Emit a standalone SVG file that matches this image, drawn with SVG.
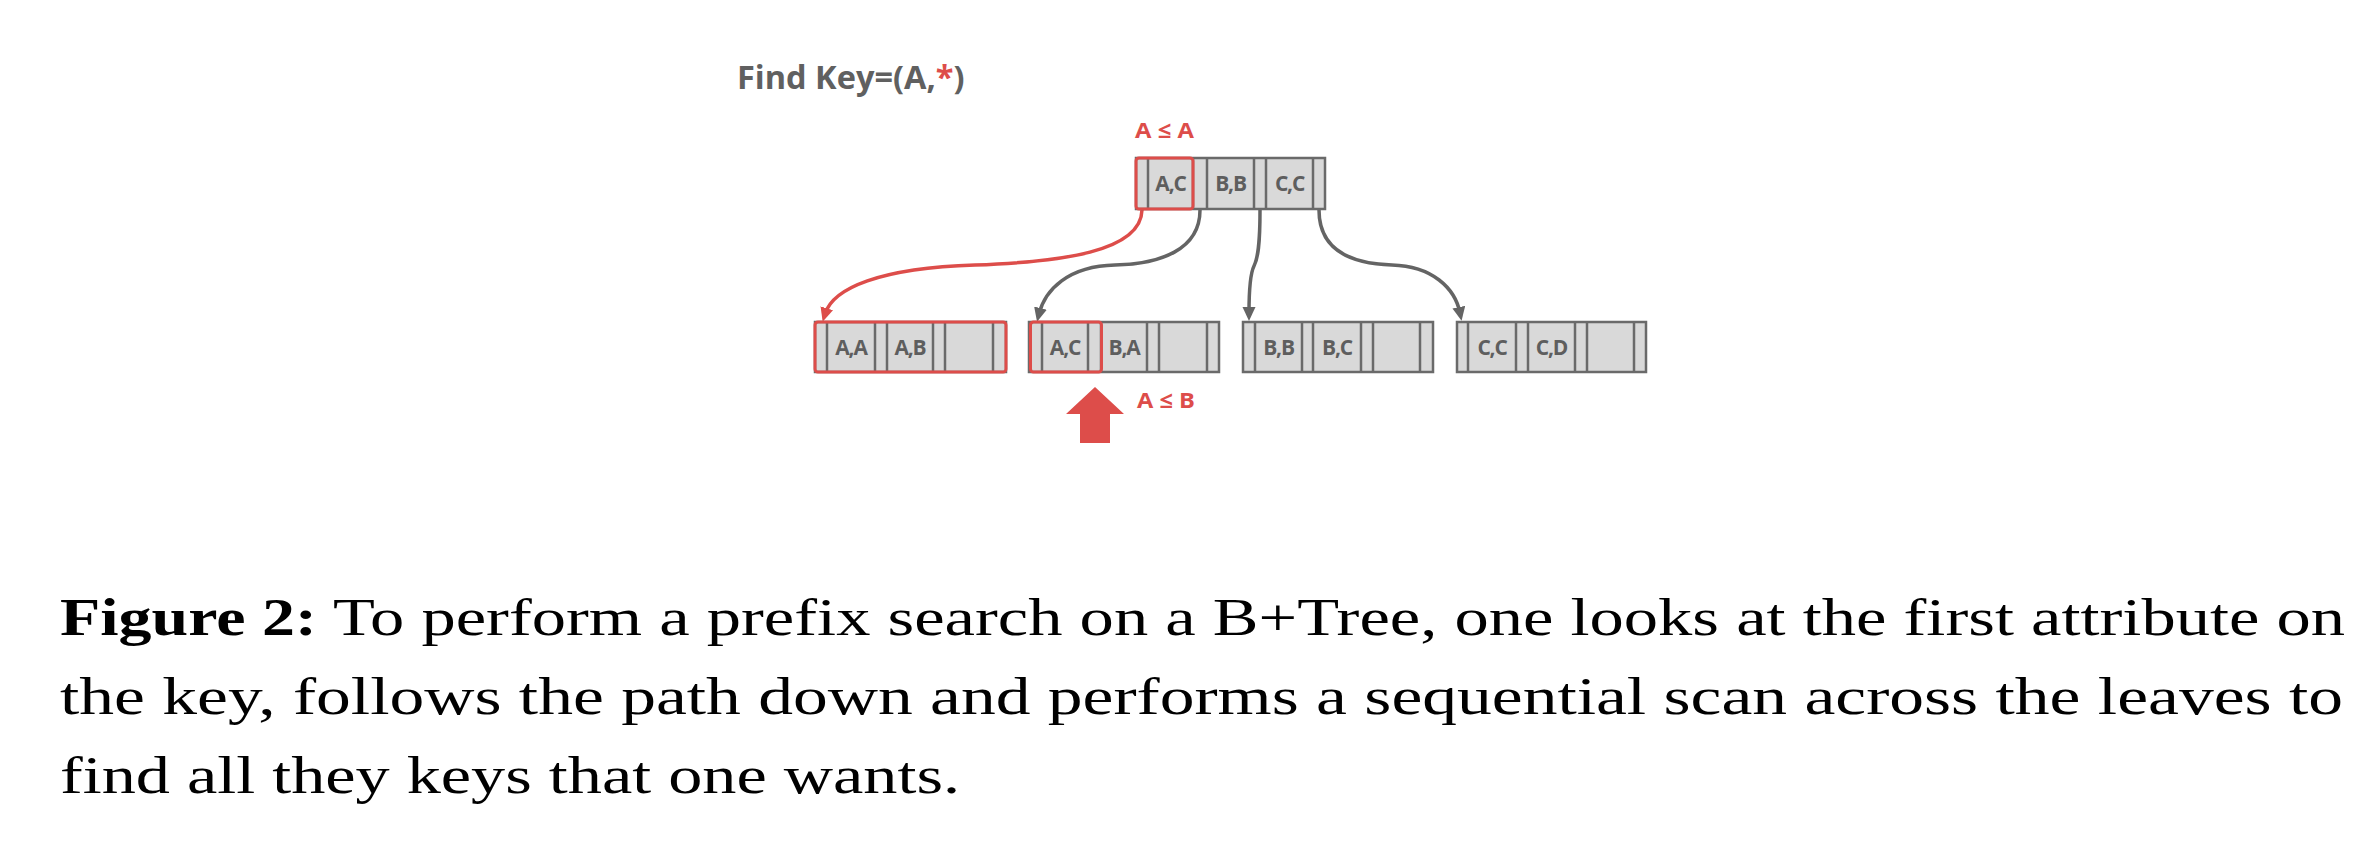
<svg xmlns="http://www.w3.org/2000/svg" width="2370" height="864" viewBox="0 0 2370 864">
<style>
.bg{fill:#ffffff}
.box{fill:#d9d9d9;stroke:#6a6a6a;stroke-width:2.5}
.dv{stroke:#6a6a6a;stroke-width:2.5}
.key{font-family:"Open Sans","Liberation Sans",sans-serif;font-weight:700;font-size:21px;fill:#5e5e5e;text-anchor:middle;letter-spacing:-1.2px}
.hl{fill:none;stroke:#dd4d4a;stroke-width:3}
.edge{fill:none;stroke:#646464;stroke-width:3.5}
.edge.red{stroke:#dd4d4a}
.lbl{font-family:"Open Sans","Liberation Sans",sans-serif;font-weight:700;font-size:22px;fill:#dd4d4a}
.title{font-family:"Open Sans","Liberation Sans",sans-serif;font-weight:700;font-size:32.5px;fill:#606060}
.star{fill:#dd4d4a}
.cap{font-family:"Liberation Serif","DejaVu Serif",serif;font-size:52px;fill:#000}
</style>
<defs>
<marker id="ag" markerUnits="userSpaceOnUse" markerWidth="16" markerHeight="14" refX="6" refY="6.5" orient="auto"><path d="M0,0 L14,6.5 L0,13 z" fill="#646464"/></marker>
<marker id="ar" markerUnits="userSpaceOnUse" markerWidth="16" markerHeight="14" refX="6" refY="6.5" orient="auto"><path d="M0,0 L14,6.5 L0,13 z" fill="#dd4d4a"/></marker>
</defs>
<rect class="bg" x="0" y="0" width="2370" height="864"/>

<g id="title">
<text class="title" x="737" y="89">Find Key=(A,<tspan class="star">*</tspan>)</text>
</g>

<g id="connectors">
<path class="edge red" d="M1142,210 C1141,252 1060,262 975,265 C880,268 833,288 825,314" marker-end="url(#ar)"/>
<path class="edge" d="M1200,210 C1200,250 1160,264 1115,265 C1068,266 1045,290 1039,314" marker-end="url(#ag)"/>
<path class="edge" d="M1260,210 C1260,245 1258,258 1254,266 C1250,274 1249,290 1249,313" marker-end="url(#ag)"/>
<path class="edge" d="M1319,210 C1319,255 1360,264 1392,265 C1432,266 1455,288 1460,313" marker-end="url(#ag)"/>
</g>

<g id="root" transform="translate(1136,158)">
<rect class="box" x="0" y="0" width="189" height="51"/>
<line class="dv" x1="12" y1="0" x2="12" y2="51"/>
<line class="dv" x1="57" y1="0" x2="57" y2="51"/>
<line class="dv" x1="71" y1="0" x2="71" y2="51"/>
<line class="dv" x1="118" y1="0" x2="118" y2="51"/>
<line class="dv" x1="130" y1="0" x2="130" y2="51"/>
<line class="dv" x1="177" y1="0" x2="177" y2="51"/>
<text class="key" x="34.5" y="33">A,C</text>
<text class="key" x="94.5" y="33">B,B</text>
<text class="key" x="153.5" y="33">C,C</text>
<rect class="hl" x="0" y="0" width="57" height="51" rx="3"/>
</g>
<g id="root-label">
<text class="lbl" x="1135" y="138" textLength="59" lengthAdjust="spacingAndGlyphs">A ≤ A</text>
</g>

<g id="leaf1" transform="translate(815,322)">
<rect class="box" x="0" y="0" width="191" height="50"/>
<line class="dv" x1="12" y1="0" x2="12" y2="50"/>
<line class="dv" x1="60" y1="0" x2="60" y2="50"/>
<line class="dv" x1="72" y1="0" x2="72" y2="50"/>
<line class="dv" x1="118" y1="0" x2="118" y2="50"/>
<line class="dv" x1="130" y1="0" x2="130" y2="50"/>
<line class="dv" x1="178" y1="0" x2="178" y2="50"/>
<text class="key" x="36" y="33">A,A</text>
<text class="key" x="95" y="33">A,B</text>
<rect class="hl" x="0" y="0" width="191" height="50" rx="3"/>
</g>

<g id="leaf2" transform="translate(1029,322)">
<rect class="box" x="0" y="0" width="190" height="50"/>
<line class="dv" x1="13" y1="0" x2="13" y2="50"/>
<line class="dv" x1="59" y1="0" x2="59" y2="50"/>
<line class="dv" x1="72" y1="0" x2="72" y2="50"/>
<line class="dv" x1="118" y1="0" x2="118" y2="50"/>
<line class="dv" x1="130" y1="0" x2="130" y2="50"/>
<line class="dv" x1="178" y1="0" x2="178" y2="50"/>
<text class="key" x="36" y="33">A,C</text>
<text class="key" x="95" y="33">B,A</text>
<rect class="hl" x="1.5" y="0" width="71" height="50" rx="3"/>
</g>

<g id="leaf3" transform="translate(1243,322)">
<rect class="box" x="0" y="0" width="190" height="50"/>
<line class="dv" x1="12" y1="0" x2="12" y2="50"/>
<line class="dv" x1="59" y1="0" x2="59" y2="50"/>
<line class="dv" x1="70" y1="0" x2="70" y2="50"/>
<line class="dv" x1="118" y1="0" x2="118" y2="50"/>
<line class="dv" x1="130" y1="0" x2="130" y2="50"/>
<line class="dv" x1="177" y1="0" x2="177" y2="50"/>
<text class="key" x="35.5" y="33">B,B</text>
<text class="key" x="94" y="33">B,C</text>
</g>

<g id="leaf4" transform="translate(1457,322)">
<rect class="box" x="0" y="0" width="189" height="50"/>
<line class="dv" x1="11" y1="0" x2="11" y2="50"/>
<line class="dv" x1="59" y1="0" x2="59" y2="50"/>
<line class="dv" x1="71" y1="0" x2="71" y2="50"/>
<line class="dv" x1="118" y1="0" x2="118" y2="50"/>
<line class="dv" x1="130" y1="0" x2="130" y2="50"/>
<line class="dv" x1="177" y1="0" x2="177" y2="50"/>
<text class="key" x="35" y="33">C,C</text>
<text class="key" x="94.5" y="33">C,D</text>
</g>

<g id="scan-pointer">
<polygon points="1095,387 1124,414 1110,414 1110,443 1080,443 1080,414 1066,414" fill="#dd4d4a"/>
<text class="lbl" x="1137" y="408" textLength="58" lengthAdjust="spacingAndGlyphs">A ≤ B</text>
</g>

<g id="caption">
<text class="cap" x="60" y="635" font-weight="700" textLength="257" lengthAdjust="spacingAndGlyphs">Figure 2:</text>
<text class="cap" x="333" y="635" textLength="2012" lengthAdjust="spacingAndGlyphs">To perform a prefix search on a B+Tree, one looks at the first attribute on</text>
<text class="cap" x="60" y="714" textLength="2283" lengthAdjust="spacingAndGlyphs">the key, follows the path down and performs a sequential scan across the leaves to</text>
<text class="cap" x="60" y="793" textLength="900" lengthAdjust="spacingAndGlyphs">find all they keys that one wants.</text>
</g>
</svg>
